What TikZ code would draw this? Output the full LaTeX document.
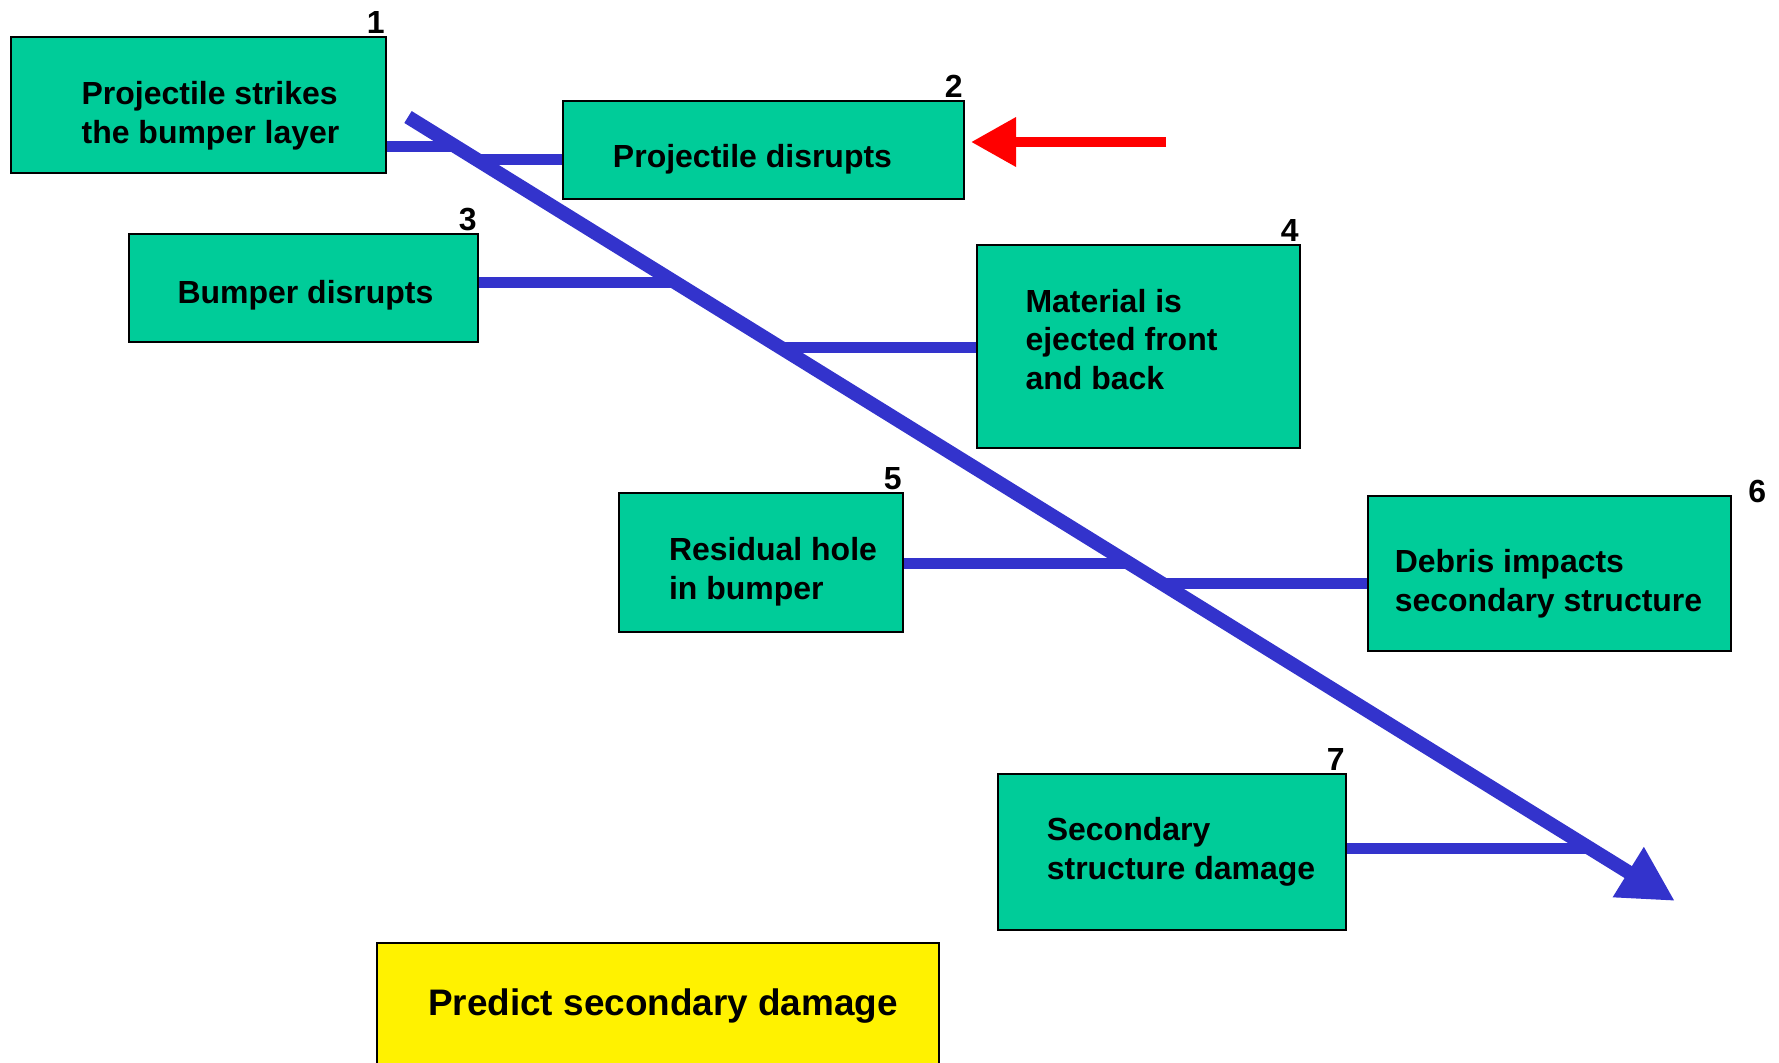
\documentclass[tikz,border=0pt]{standalone}
\usepackage{fontspec}
\setmainfont{Liberation Sans}
\usepackage{tikz}
\usetikzlibrary{arrows.meta, positioning, calc}
\definecolor{stepgreen}{RGB}{0,204,153}
\definecolor{spineblue}{RGB}{51,51,204}
\tikzset{
   mybox/.style={draw, line width=0.4mm, fill=stepgreen, inner sep=0pt},
   mytext/.style={align=left, inner sep=0pt, font=\bfseries\fontsize{18.2}{22}\selectfont},
   mygoal/.style={draw, line width=0.4mm, fill=yellow, inner sep=0pt},
   mynum/.style={inner sep=0.4mm, font=\bfseries\fontsize{18.2}{22}\selectfont}
}

\begin{document}
\begin{tikzpicture}[x=0.2mm, y=-0.2mm]
   \tikzstyle{spine} = [draw, spineblue, line width=2.8mm, -{Triangle[length=11mm, width=11mm]}]
   \tikzstyle{branch} = [draw, spineblue, line width=2.2mm]
   \tikzstyle{pointer} = [draw, red, line width=2mm, -{Triangle[length=9mm, width=9.4mm]}]
   \useasboundingbox (0,0) rectangle (1779,1062);

   \node[mybox, minimum width=75mm, minimum height=27.2mm, label={[mynum, anchor=south east]north east:1}] (strike) at (198.5,105) {};
   \node[mybox, minimum width=80.2mm, minimum height=19.6mm, label={[mynum, anchor=south east]north east:2}] (projdis) at (763.5,150) {};
   \node[mybox, minimum width=69.8mm, minimum height=21.6mm, label={[mynum, anchor=south east]north east:3}] (bumpdis) at (303.5,288) {};
   \node[mybox, minimum width=64.6mm, minimum height=40.6mm, label={[mynum, anchor=south east]north east:4}] (eject) at (1138.5,346.5) {};
   \node[mybox, minimum width=56.8mm, minimum height=27.8mm, label={[mynum, anchor=south east]north east:5}] (hole) at (761,562.5) {};
   \node[mybox, minimum width=72.6mm, minimum height=31mm, label={[mynum, anchor=west, xshift=2.8mm, yshift=0.8mm]north east:6}] (debris) at (1549.5,573.5) {};
   \node[mybox, minimum width=69.6mm, minimum height=31.2mm, label={[mynum, anchor=south east]north east:7}] (damage) at (1172,852) {};
   \node[mygoal, minimum width=112.4mm, minimum height=24.2mm] (predict) at (658,1003.5) {};

   \node[mytext] (strike-txt) at ($(strike)+(12,11)$) {Projectile strikes\\the bumper layer};
   \node[mytext] (projdis-txt) at ($(projdis)+(-11,9)$) {Projectile disrupts};
   \node[mytext] (bumpdis-txt) at ($(bumpdis)+(2,7)$) {Bumper disrupts};
   \node[mytext] (eject-txt) at ($(eject)+(-17,-7)$) {Material is\\ejected front\\and back};
   \node[mytext] (hole-txt) at ($(hole)+(12,9)$) {Residual hole\\in bumper};
   \node[mytext] (debris-txt) at ($(debris)+(-1,10)$) {Debris impacts\\secondary structure};
   \node[mytext] (damage-txt) at ($(damage)+(9,0)$) {Secondary\\structure damage};
   \node[mytext, font=\bfseries\fontsize{21}{25}\selectfont] (predict-txt) at ($(predict)+(5,3)$) {Predict secondary damage};

   \coordinate (s0) at (408,117);
   \coordinate (s1) at (1675,901);
   \path (s0) -- (s1)
      coordinate[pos=.038] (j1) coordinate[pos=.0548] (j2)
      coordinate[pos=.2117] (j3) coordinate[pos=.2934] (j4)
      coordinate[pos=.5689] (j5) coordinate[pos=.5944] (j6)
      coordinate[pos=.9324] (j7);

   \path [branch] (strike.east |- j1) -- (j1);
   \path [branch] (j2) -- (projdis.west |- j2);
   \path [branch] (bumpdis.east |- j3) -- (j3);
   \path [branch] (j4) -- (eject.west |- j4);
   \path [branch] (hole.east |- j5) -- (j5);
   \path [branch] (j6) -- (debris.west |- j6);
   \path [branch] (damage.east |- j7) -- (j7);
   \path [spine] (s0) -- (s1);

   \coordinate (rtail) at (1166,142);
   \path [pointer, shorten >=1.2mm] (rtail) -- (rtail -| projdis.east);
\end{tikzpicture}
\end{document}
